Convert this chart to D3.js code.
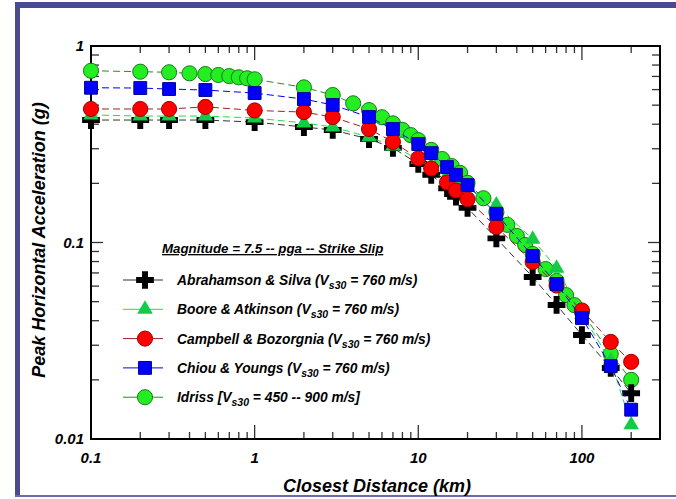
<!DOCTYPE html>
<html>
<head>
<meta charset="utf-8">
<script src="https://cdn.jsdelivr.net/npm/d3@7"></script>
<style>
  body { margin: 0; background: #fff; }
  text { font-family: "Liberation Sans", Arial, sans-serif; font-weight: bold; font-style: italic; }
</style>
</head>
<body>
<svg id="chart" width="676" height="499"></svg>
<script>
// distances (km) shared by the four NGA models
const distances = [0.1, 0.2, 0.3, 0.5, 1, 2, 3, 5, 7, 10, 12, 15, 17, 20, 30, 50, 70, 100, 150, 200];
const asValues = [0.42, 0.42, 0.42, 0.42, 0.41, 0.387, 0.374, 0.336, 0.303, 0.251, 0.221, 0.189, 0.171, 0.150, 0.105, 0.0668, 0.0481, 0.0338, 0.023, 0.0171];
const baValues = [0.446, 0.44, 0.44, 0.44, 0.43, 0.406, 0.387, 0.344, 0.31, 0.265, 0.245, 0.22, 0.205, 0.19, 0.155, 0.104, 0.074, 0.043, 0.025, 0.0118];
const cbValues = [0.478, 0.478, 0.478, 0.49, 0.47, 0.461, 0.435, 0.378, 0.325, 0.268, 0.238, 0.202, 0.184, 0.166, 0.120, 0.0796, 0.0604, 0.0451, 0.0312, 0.0247];
const cyValues = [0.613, 0.611, 0.604, 0.597, 0.576, 0.537, 0.501, 0.435, 0.378, 0.317, 0.285, 0.242, 0.221, 0.196, 0.140, 0.0854, 0.0615, 0.0413, 0.0235, 0.0141];

// Idriss uses a denser distance set
const idrissDistances = [0.1, 0.2, 0.3, 0.4, 0.5, 0.6, 0.7, 0.8, 0.9, 1, 2, 3, 4, 5, 6, 7, 8, 9, 10, 12, 14, 16, 18, 20, 25, 30, 35, 40, 45, 50, 60, 70, 80, 90, 100, 150, 200];
const idrissValues = [0.748, 0.740, 0.735, 0.726, 0.72, 0.712, 0.703, 0.693, 0.685, 0.677, 0.616, 0.563, 0.511, 0.472, 0.434, 0.404, 0.374, 0.352, 0.332, 0.296, 0.266, 0.245, 0.226, 0.201, 0.168, 0.143, 0.123, 0.108, 0.0971, 0.0874, 0.0733, 0.0637, 0.054, 0.048, 0.0443, 0.0271, 0.020];

const modelNames = ["Abrahamson & Silva (V", "Boore & Atkinson (V", "Campbell & Bozorgnia (V", "Chiou & Youngs (V", "Idriss [V"];
const modelTails = [" = 760 m/s)", " = 760 m/s)", " = 760 m/s)", " = 760 m/s)", " = 450 -- 900 m/s]"];
const legendTitle = "Magnitude = 7.5 -- pga -- Strike Slip";
const xTickLabels = [0.1, 1, 10, 100];
const yTickLabels = [0.01, 0.1, 1];

const svg = d3.select("#chart");

// frame
svg.append("rect").attr("x", 15).attr("y", 2).attr("width", 661).attr("height", 6).attr("fill", "#4a4a8e");
svg.append("rect").attr("x", 15).attr("y", 2).attr("width", 5).attr("height", 495).attr("fill", "#4a4a8e");
svg.append("rect").attr("x", 15).attr("y", 495).attr("width", 661).attr("height", 2).attr("fill", "#6a6aa8");

const x = d3.scaleLog().domain([0.1, 300]).range([91, 660]);
const y = d3.scaleLog().domain([0.01, 1]).range([439, 46]);

const chart = svg.append("g");

// ticks (inward, all four sides)
const xMinor = [];
for (let e = -1; e <= 2; e++) for (let m = 1; m <= 9; m++) { const v = m * Math.pow(10, e); if (v <= 300) xMinor.push(v); }
const yMinor = [];
for (let e = -2; e <= 0; e++) for (let m = 1; m <= 9; m++) { const v = m * Math.pow(10, e); if (v <= 1) yMinor.push(v); }
const isMajor = v => Math.abs(Math.log10(v) - Math.round(Math.log10(v))) < 1e-9;

const ticks = chart.append("g").attr("stroke", "#333").attr("stroke-width", 1.3);
xMinor.forEach(v => {
  const len = isMajor(v) ? 14 : 7;
  ticks.append("line").attr("x1", x(v)).attr("x2", x(v)).attr("y1", 439).attr("y2", 439 - len);
  ticks.append("line").attr("x1", x(v)).attr("x2", x(v)).attr("y1", 46).attr("y2", 46 + len);
});
yMinor.forEach(v => {
  const len = isMajor(v) ? 12 : 8;
  ticks.append("line").attr("x1", 91).attr("x2", 91 + len).attr("y1", y(v)).attr("y2", y(v));
  ticks.append("line").attr("x1", 660).attr("x2", 660 - len).attr("y1", y(v)).attr("y2", y(v));
});

chart.append("rect").attr("x", 91).attr("y", 46).attr("width", 660 - 91).attr("height", 439 - 46)
  .attr("fill", "none").attr("stroke", "#000").attr("stroke-width", 2);

// tick labels
chart.selectAll(".xl").data(xTickLabels).enter().append("text")
  .attr("x", d => x(d)).attr("y", 463).attr("text-anchor", "middle")
  .attr("font-size", 15).text(d => d);
chart.selectAll(".yl").data(yTickLabels).enter().append("text")
  .attr("x", 84).attr("y", d => y(d) + 5).attr("text-anchor", "end")
  .attr("font-size", 15).text(d => d);

// axis titles
svg.append("text").attr("x", 377).attr("y", 492).attr("text-anchor", "middle")
  .attr("font-size", 18).text("Closest Distance (km)");
svg.append("text").attr("transform", "translate(45,240) rotate(-90)").attr("text-anchor", "middle")
  .attr("font-size", 18).text("Peak Horizontal Acceleration (g)");

// series
const series = [
  { xs: idrissDistances, ys: idrissValues, line: "#2a8a2a", fill: "#22ee22", stroke: "#1a7a1a", sym: d3.symbolCircle, size: 180 },
  { xs: distances, ys: asValues, line: "#333", fill: "#000", stroke: "none", sym: d3.symbolCross, size: 175 },
  { xs: distances, ys: baValues, line: "#22dd44", fill: "#11cc44", stroke: "none", sym: d3.symbolTriangle, size: 105 },
  { xs: distances, ys: cbValues, line: "#a02020", fill: "#ff0000", stroke: "#a00000", sym: d3.symbolCircle, size: 180 },
  { xs: distances, ys: cyValues, line: "#0000ee", fill: "#0000ff", stroke: "#000099", sym: d3.symbolSquare, size: 165 }
];

const line = d3.line().x(d => x(d[0])).y(d => y(d[1]));
series.forEach(s => {
  const pts = s.xs.map((d, i) => [d, s.ys[i]]);
  const g = chart.append("g");
  g.append("path").attr("d", line(pts)).attr("fill", "none")
    .attr("stroke", s.line).attr("stroke-width", 1).attr("stroke-dasharray", "7,4");
  g.selectAll("path.m").data(pts).enter().append("path").attr("class", "m")
    .attr("transform", d => `translate(${x(d[0])},${y(d[1])})`)
    .attr("d", d3.symbol().type(s.sym).size(s.size))
    .attr("fill", s.fill).attr("stroke", s.stroke).attr("stroke-width", 1);
});

// legend
const legend = svg.append("g");
legend.append("text").attr("x", 162).attr("y", 253).attr("font-size", 13.3)
  .attr("text-decoration", "underline").text(legendTitle);
const legendOrder = [1, 2, 3, 4, 0];
legendOrder.forEach((si, i) => {
  const s = series[si];
  const ly = 280 + i * 29.3;
  legend.append("line").attr("x1", 123).attr("x2", 163).attr("y1", ly).attr("y2", ly)
    .attr("stroke", s.line).attr("stroke-width", 1);
  legend.append("path").attr("transform", `translate(145,${ly})`)
    .attr("d", d3.symbol().type(s.sym).size(s.size))
    .attr("fill", s.fill).attr("stroke", s.stroke).attr("stroke-width", 1);
  const t = legend.append("text").attr("x", 177).attr("y", ly + 5).attr("font-size", 13.8);
  t.append("tspan").text(modelNames[i]);
  t.append("tspan").attr("dy", 4).attr("font-size", 10.5).text("s30");
  t.append("tspan").attr("dy", -4).text(modelTails[i]);
});
</script>
</body>
</html>
